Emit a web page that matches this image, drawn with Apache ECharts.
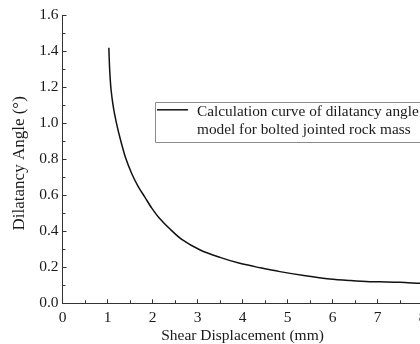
<!DOCTYPE html>
<html>
<head>
<meta charset="utf-8">
<script src="https://cdn.jsdelivr.net/npm/echarts@6/dist/echarts.min.js"></script>
<style>html,body{margin:0;padding:0;background:#fff}#c{width:420px;height:344px}</style>
</head>
<body>
<div id="c"></div>
<script>
const seriesName = 'Calculation curve of dilatancy angle\nmodel for bolted jointed rock mass';
const shearDisplacement = [1.03, 1.05, 1.08, 1.13, 1.2, 1.29, 1.4, 1.54, 1.68, 1.83, 1.98, 2.13, 2.4, 2.65, 3.06, 3.5, 3.94, 4.4, 4.83, 5.4, 5.94, 6.4, 6.83, 7.2, 7.5, 7.94, 8.2];
const dilatancyAngle = [1.42, 1.29, 1.185, 1.09, 1.0, 0.907, 0.81, 0.72, 0.65, 0.59, 0.53, 0.48, 0.41, 0.355, 0.296, 0.255, 0.222, 0.197, 0.176, 0.153, 0.135, 0.126, 0.12, 0.119, 0.117, 0.111, 0.108];

const font = 'Liberation Serif';
const chart = echarts.init(document.getElementById('c'), null, {renderer: 'canvas'});
const axisCommon = {
  axisLine: {show: true, lineStyle: {color: '#333', width: 1}},
  axisTick: {show: true, inside: true, length: 4, lineStyle: {color: '#333'}},
  minorTick: {show: true, splitNumber: 2, length: 3, lineStyle: {color: '#333'}},
  splitLine: {show: false},
  axisLabel: {fontFamily: font, fontSize: 15.5, color: '#1a1a1a'},
  nameTextStyle: {fontFamily: font, fontSize: 15.5, color: '#1a1a1a'},
  nameLocation: 'middle',
  nameMoveOverlap: false
};
chart.setOption({
  animation: false,
  backgroundColor: '#fff',
  grid: {left: 62.5, right: -2.5, top: 15.3, bottom: 40.7, containLabel: false, outerBoundsMode: 'none'},
  xAxis: Object.assign({}, axisCommon, {
    type: 'value', min: 0, max: 8, interval: 1,
    name: 'Shear Displacement (mm)', nameGap: 25,
    axisLabel: Object.assign({}, axisCommon.axisLabel, {margin: 7})
  }),
  yAxis: Object.assign({}, axisCommon, {
    type: 'value', min: 0, max: 1.6, interval: 0.2,
    name: 'Dilatancy Angle (°)', nameGap: 34,
    nameTextStyle: {fontFamily: font, fontSize: 17, color: '#1a1a1a', padding: [0, 8, 0, 0]},
    axisLabel: Object.assign({}, axisCommon.axisLabel, {margin: 4, formatter: v => v.toFixed(1)})
  }),
  graphic: [{
    type: 'rect', left: 153, top: 100, z: 10,
    shape: {width: 266, height: 40},
    style: {fill: 'none', stroke: '#8a8a8a', lineWidth: 1}
  }],
  legend: {
    left: 157, top: 80,
    orient: 'vertical',
    icon: 'rect', itemWidth: 31, itemHeight: 1.5,
    itemGap: 0,
    padding: 0,
    borderWidth: 0,
    formatter: name => '{e| }\n' + name,
    textStyle: {
      fontFamily: font, fontSize: 15.3, color: '#1a1a1a', lineHeight: 18.3, padding: [0, 0, 0, 4],
      rich: {e: {lineHeight: 23, fontSize: 15.3, fontFamily: font}}
    },
    data: [seriesName]
  },
  series: [{
    name: seriesName,
    type: 'line',
    symbol: 'none',
    smooth: 0.3,
    lineStyle: {color: '#111', width: 1.5},
    itemStyle: {color: '#111'},
    data: shearDisplacement.map((x, i) => [x, dilatancyAngle[i]])
  }]
});
</script>
</body>
</html>
